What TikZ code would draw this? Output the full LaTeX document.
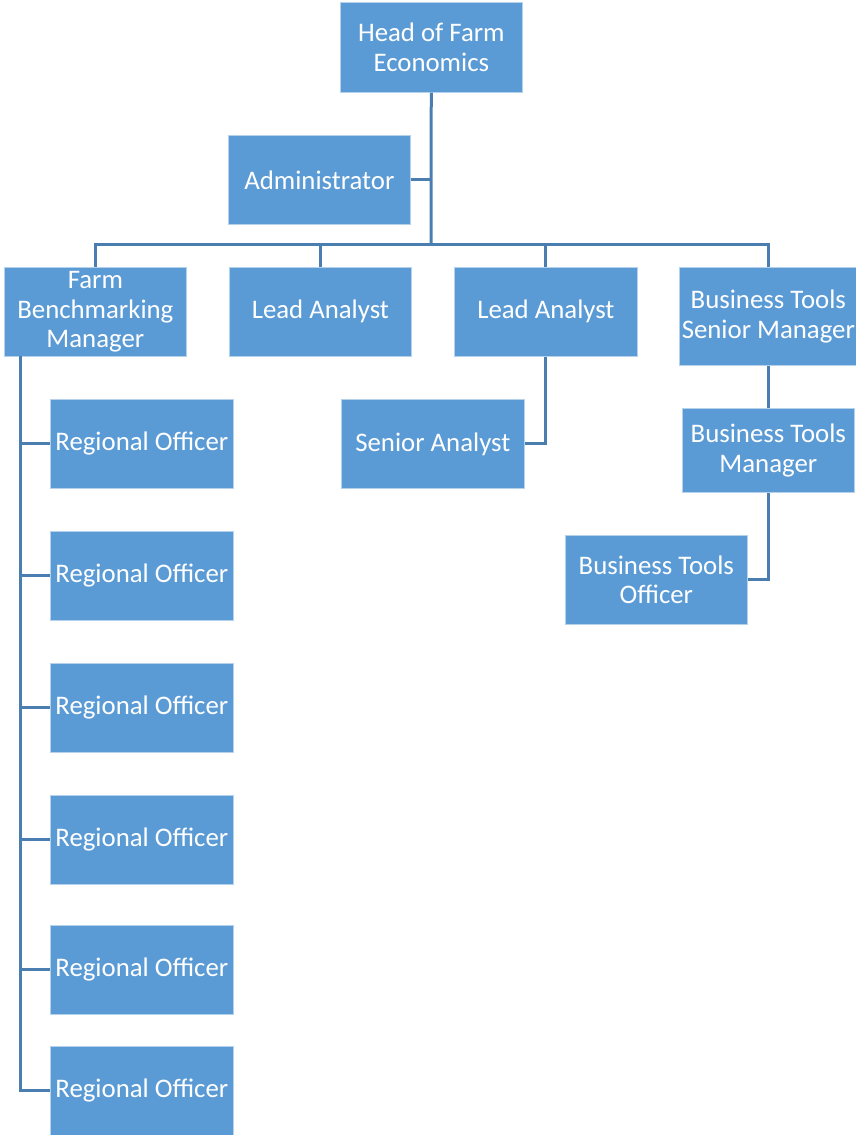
\documentclass[tikz,border=0pt]{standalone}
\usepackage{fontspec}
\setmainfont{Carlito}
\definecolor{boxblue}{HTML}{5B9BD5}
\definecolor{linkblue}{HTML}{4A7EB0}
\begin{document}
\begin{tikzpicture}[x=1pt,y=-1pt,
  box/.style={rectangle, fill=boxblue, draw=white!55!boxblue, line width=0.7pt,
    inner sep=0pt, align=center, text=white, anchor=north west,
    font=\fontsize{26.8}{29.5}\selectfont},
  link/.style={draw=linkblue, line width=3pt}]
\useasboundingbox (0,0) rectangle (855,1135);
\node[box, minimum width=182pt, minimum height=90pt] (head) at (340,2) {Head of Farm\\Economics};
\node[box, minimum width=182pt, minimum height=89pt] (admin) at (228,135) {Administrator};
\node[box, minimum width=182pt, minimum height=89pt] (fbm) at (4,267) {Farm\\Benchmarking\\Manager};
\node[box, minimum width=182pt, minimum height=89pt] (la1) at (229,267) {Lead Analyst};
\node[box, minimum width=183pt, minimum height=89pt] (la2) at (454,267) {Lead Analyst};
\node[box, minimum width=178pt, minimum height=98pt] (btsm) at (679,267) {Business Tools\\Senior Manager};
\node[box, minimum width=183pt, minimum height=89pt] (sa) at (341,399) {Senior Analyst};
\node[box, minimum width=172pt, minimum height=84pt] (btm) at (682,408) {Business Tools\\Manager};
\node[box, minimum width=182pt, minimum height=89pt] (bto) at (565,535) {Business Tools\\Officer};
\foreach \i/\y in {1/399,2/531,3/663,4/795,5/925,6/1046}
  \node[box, minimum width=183pt, minimum height=89pt] (ro\i) at (50,\y) {Regional Officer};
\coordinate (hub) at (431,244);
\coordinate (spine) at (20,356);
\draw[link] (head) -- (hub);
\draw[link] (fbm.north) |- (hub) -| (btsm.north);
\draw[link] (la1.north) -- (la1.north |- hub);
\draw[link] (la2.north) -- (la2.north |- hub);
\draw[link] (admin.east) -- (admin.east -| hub);
\draw[link] (la2.south) |- (sa.east);
\draw[link] (btsm.south) -- (btm.north);
\draw[link] (btm.south) |- (bto.east);
\draw[link] (spine) |- (ro6.west);
\foreach \i in {1,...,5}
  \draw[link] (ro\i.west) -- (ro\i.west -| spine);
\end{tikzpicture}
\end{document}
